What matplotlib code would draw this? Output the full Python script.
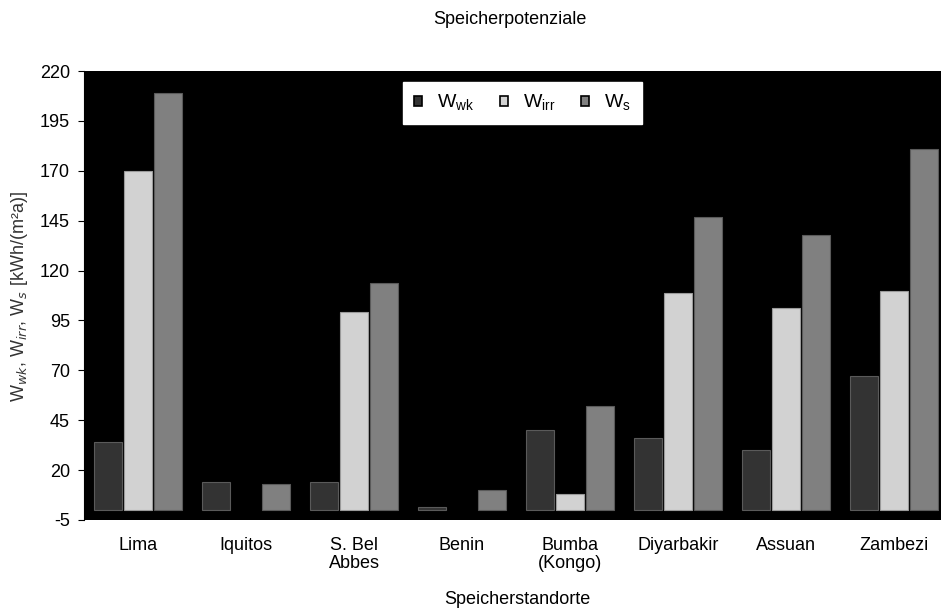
import numpy as np
import matplotlib.pyplot as plt

plt.rcParams['font.family'] = ['Liberation Sans', 'DejaVu Sans']
plt.rcParams['axes.unicode_minus'] = False

standorte = ['Lima', 'Iquitos', 'S. Bel\nAbbes', 'Benin', 'Bumba\n(Kongo)',
             'Diyarbakir', 'Assuan', 'Zambezi']
w_wk = [34, 14, 14, 1.5, 40, 36, 30, 67]
w_irr = [170, 0, 99, 0, 8, 109, 101, 110]
w_s = [209, 13, 114, 10, 52, 147, 138, 181]
yticks = [-5, 20, 45, 70, 95, 120, 145, 170, 195, 220]

fig = plt.figure(figsize=(9.41, 6.12), dpi=100)
ax = fig.add_axes([84 / 941, 1 - 520 / 612, 864 / 941, 449 / 612])
ax.set_facecolor('black')

x = np.arange(len(standorte))
w = 0.26
off = 0.278
series = [(w_wk, -off, '#333333', '#5a5a5a', 'W$_{\\mathregular{wk}}$'),
          (w_irr, 0, '#d2d2d2', '#9a9a9a', 'W$_{\\mathregular{irr}}$'),
          (w_s, off, '#808080', '#5a5a5a', 'W$_{\\mathregular{s}}$')]
handles = []
for vals, dx, fc, ec, lab in series:
    bars = ax.bar(x + dx, vals, w, color=fc, edgecolor=ec, linewidth=0.8)
    for b, v in zip(bars, vals):
        if v == 0:
            b.set_visible(False)
    h = plt.Rectangle((0, 0), 1, 1, facecolor=fc, edgecolor='black', linewidth=1.2)
    handles.append((h, lab))

ax.set_xlim(-0.5, len(standorte) - 0.5)
ax.set_ylim(-5, 220)
ax.set_yticks(yticks)
ax.set_xticks(x)
ax.set_xticklabels(standorte, fontsize=13, linespacing=1.1)
ax.tick_params(axis='x', length=0, pad=12)
ax.tick_params(axis='y', labelsize=13, length=4, direction='out', pad=6)
for s in ['top', 'right', 'bottom']:
    ax.spines[s].set_visible(False)
ax.spines['left'].set_color('black')

fig.text(517 / 941, 1 - 600 / 612, 'Speicherstandorte', ha='center', va='center', fontsize=13)
fig.text(20 / 941, 1 - 297 / 612, 'W$_{wk}$, W$_{irr}$, W$_s$ [kWh/(m²a)]', ha='center', va='center',
         rotation=90, fontsize=13, color='#333333')
fig.text(510 / 941, 1 - 20 / 612, 'Speicherpotenziale', ha='center', va='center', fontsize=13)

leg = ax.legend([h for h, _ in handles], [l for _, l in handles],
                loc='upper left', bbox_to_anchor=((403 - 84) / 864, 0.975), ncol=3,
                frameon=True, fancybox=False, framealpha=1, edgecolor='white',
                fontsize=14, handlelength=0.45, handleheight=0.45, columnspacing=1.3,
                borderpad=0.55, handletextpad=0.75, borderaxespad=0.0)

fig.savefig('out.png', dpi=100)
